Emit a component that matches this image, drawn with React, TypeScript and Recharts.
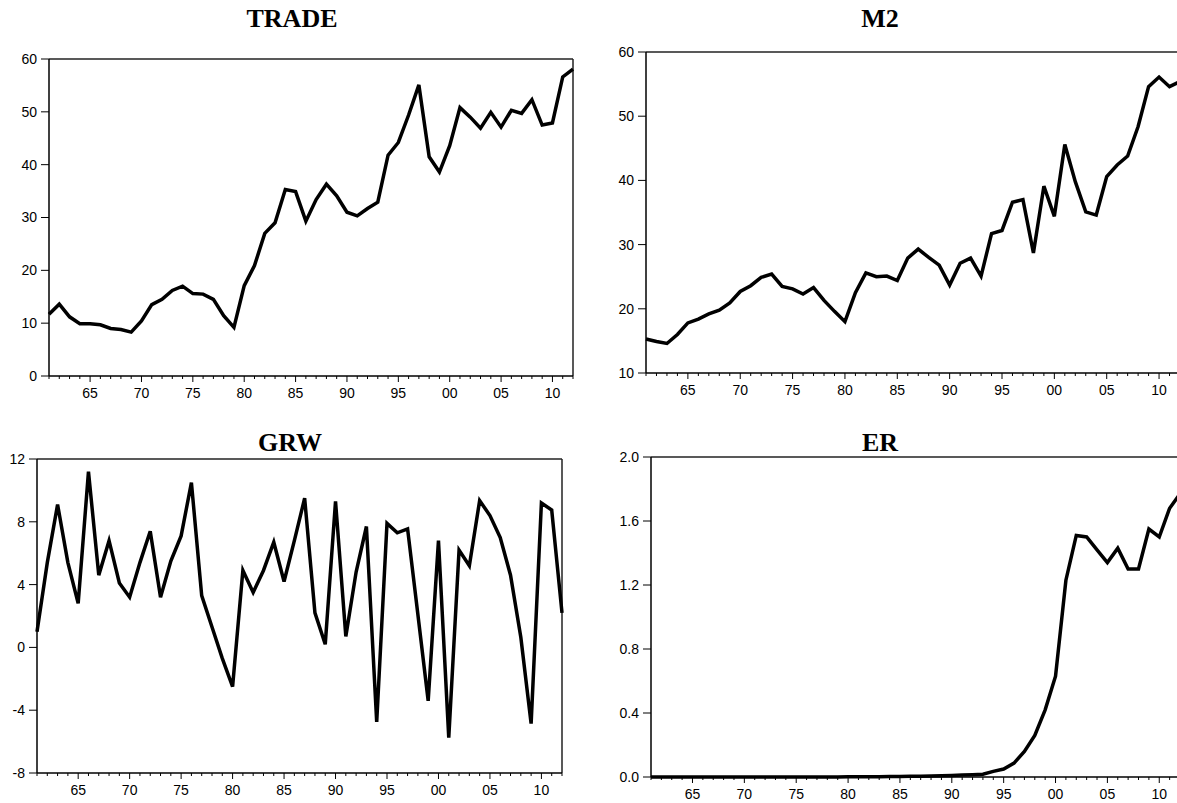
import { LineChart, Line, XAxis, YAxis, ReferenceLine } from 'recharts';

// years 1961..2012
const years = Array.from({ length: 52 }, (_, i) => 1961 + i);

const trade = [
  11.7, 13.6, 11.2, 9.9, 9.9, 9.7, 9.0, 8.8, 8.3, 10.4,
  13.5, 14.5, 16.2, 17.0, 15.6, 15.5, 14.5, 11.4, 9.2, 17.1,
  20.9, 27.0, 29.0, 35.3, 34.9, 29.3, 33.4, 36.3, 34.1, 31.0,
  30.3, 31.7, 32.9, 41.8, 44.2, 49.4, 55.1, 41.5, 38.6, 43.6,
  50.8, 49.0, 46.9, 49.9, 47.1, 50.3, 49.7, 52.3, 47.5, 47.9,
  56.6, 58.1,
];

const m2 = [
  15.3, 14.9, 14.6, 16.0, 17.8, 18.4, 19.2, 19.8, 20.9, 22.7,
  23.6, 24.9, 25.4, 23.5, 23.1, 22.3, 23.3, 21.3, 19.6, 18.0,
  22.5, 25.6, 25.0, 25.1, 24.4, 27.9, 29.3, 28.0, 26.8, 23.7,
  27.1, 27.9, 25.1, 31.7, 32.2, 36.6, 37.0, 28.7, 39.1, 34.4,
  45.6, 39.8, 35.1, 34.6, 40.6, 42.4, 43.8, 48.4, 54.6, 56.1,
  54.6, 55.4,
];

const grw = [
  1.0, 5.4, 9.1, 5.4, 2.8, 11.2, 4.6, 6.8, 4.1, 3.2,
  5.4, 7.4, 3.2, 5.5, 7.1, 10.5, 3.3, 1.3, -0.7, -2.5,
  4.9, 3.5, 4.9, 6.7, 4.2, 6.8, 9.5, 2.2, 0.2, 9.3,
  0.7, 4.8, 7.7, -4.75, 7.9, 7.3, 7.55, 2.1, -3.4, 6.8,
  -5.75, 6.2, 5.2, 9.35, 8.4, 7.0, 4.6, 0.65, -4.85, 9.2,
  8.75, 2.2,
];

const er = [
  0.0001, 0.0001, 0.0001, 0.0001, 0.0001, 0.0001, 0.0001, 0.0001, 0.0001, 0.0001,
  0.0001, 0.0001, 0.0001, 0.0001, 0.0002, 0.0002, 0.0002, 0.0002, 0.0003, 0.0008,
  0.001, 0.001, 0.002, 0.003, 0.003, 0.004, 0.005, 0.006, 0.008, 0.01,
  0.012, 0.014, 0.017, 0.035, 0.05, 0.087, 0.16, 0.26, 0.42, 0.63,
  1.23, 1.51, 1.50, 1.42, 1.34, 1.43, 1.30, 1.30, 1.55, 1.50,
  1.68, 1.77,
];

const tradeTicks = [0, 10, 20, 30, 40, 50, 60];
const m2Ticks = [10, 20, 30, 40, 50, 60];
const grwTicks = [-8, -4, 0, 4, 8, 12];
const erTicks = [0, 0.4, 0.8, 1.2, 1.6, 2.0];

const data = years.map((year, i) => ({
  year,
  trade: trade[i],
  m2: m2[i],
  grw: grw[i],
  er: er[i],
}));

const FONT = '"Liberation Sans", Arial, sans-serif';

const YearTick = (props: any) => {
  const { x, y, payload } = props;
  const yr = payload.value as number;
  const major = yr % 5 === 0;
  return (
    <g>
      <line x1={x} x2={x} y1={y} y2={y + (major ? 6 : 3)} stroke="#000" strokeWidth={1} />
      {major && (
        <text x={x} y={y + 22} textAnchor="middle" fontSize={14} fill="#000" fontFamily={FONT}>
          {String(yr % 100).padStart(2, '0')}
        </text>
      )}
    </g>
  );
};

type Box = { L: number; T: number; R: number; B: number };

const Panel = ({
  title, dataKey, domain, ticks, box, titleX, titleY, fmt,
}: {
  title: string; dataKey: string; domain: [number, number]; ticks: number[];
  box: Box; titleX: number; titleY: number; fmt?: (v: number) => string;
}) => {
  const yw = 45;
  const xh = 30;
  const cx = box.L - yw - 5;
  const cy = box.T - 20;
  const cw = box.R - cx + 10;
  const ch = box.B - cy + xh + 5;
  return (
    <>
      <div
        style={{
          position: 'absolute', left: titleX - 100, width: 200, top: titleY,
          textAlign: 'center', fontFamily: '"Liberation Serif", "Times New Roman", serif',
          fontWeight: 'bold', fontSize: 26, lineHeight: '26px', color: '#000',
        }}
      >
        {title}
      </div>
      <div style={{ position: 'absolute', left: cx, top: cy }}>
        <LineChart
          width={cw}
          height={ch}
          data={data}
          margin={{ top: 20, left: 5, right: 10, bottom: 5 }}
        >
          <XAxis
            dataKey="year"
            type="number"
            domain={[1961, 2012]}
            ticks={years}
            interval={0}
            tickSize={0}
            tickMargin={0}
            tickLine={false}
            height={xh}
            axisLine={{ stroke: '#000', strokeWidth: 1.5 }}
            tick={<YearTick />}
          />
          <YAxis
            domain={domain}
            ticks={ticks}
            width={yw}
            interval={0}
            tickSize={8}
            tickMargin={4}
            axisLine={{ stroke: '#000', strokeWidth: 1.5 }}
            tickLine={{ stroke: '#000', strokeWidth: 1 }}
            tick={{ fill: '#000', fontSize: 14, fontFamily: FONT }}
            tickFormatter={fmt}
          />
          <ReferenceLine y={domain[1]} stroke="#222" strokeWidth={1.5} />
          <ReferenceLine x={2012} stroke="#222" strokeWidth={1.5} />
          <Line
            type="linear"
            dataKey={dataKey}
            stroke="#000"
            strokeWidth={3.5}
            dot={false}
            activeDot={false}
            isAnimationActive={false}
          />
        </LineChart>
      </div>
    </>
  );
};

export default function App() {
  return (
    <div
      style={{
        position: 'fixed', left: 0, top: 0, width: 1177, height: 803,
        overflow: 'hidden', background: '#fff',
      }}
    >
      <Panel title="TRADE" dataKey="trade" domain={[0, 60]} ticks={tradeTicks}
        box={{ L: 49, T: 59, R: 573, B: 376 }} titleX={292} titleY={6} />
      <Panel title="M2" dataKey="m2" domain={[10, 60]} ticks={m2Ticks}
        box={{ L: 646, T: 52, R: 1180, B: 373 }} titleX={880} titleY={6} />
      <Panel title="GRW" dataKey="grw" domain={[-8, 12]} ticks={grwTicks}
        box={{ L: 37, T: 459, R: 562, B: 773 }} titleX={290} titleY={430} />
      <Panel title="ER" dataKey="er" domain={[0, 2]} ticks={erTicks}
        box={{ L: 651, T: 457, R: 1180, B: 777 }} titleX={880} titleY={430}
        fmt={(v: number) => v.toFixed(1)} />
    </div>
  );
}
